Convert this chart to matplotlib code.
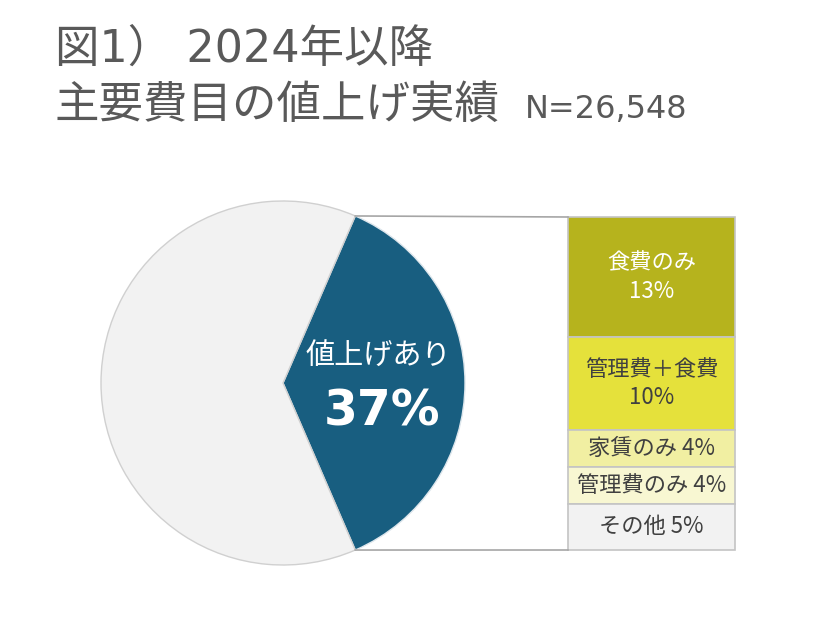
import matplotlib
matplotlib.use("Agg")
import matplotlib.pyplot as plt
import numpy as np

plt.rcParams['font.family'] = ['Noto Sans CJK JP', 'DejaVu Sans']

# data
pie_labels = ['値上げあり', 'なし']
pie_values = [37, 63]
bar_labels = ['食費のみ', '管理費＋食費', '家賃のみ', '管理費のみ', 'その他']
bar_values = [13, 10, 4, 4, 5]
bar_texts = ['食費のみ\n13%', '管理費＋食費\n10%', '家賃のみ 4%', '管理費のみ 4%', 'その他 5%']
bar_colors = ['#B6B31D', '#E5E13B', '#F1EFA2', '#F8F7D2', '#F2F2F2']
bar_text_colors = ['white', '#404040', '#404040', '#404040', '#404040']
title1 = '図1） 2024年以降'
title2 = '主要費目の値上げ実績'
n_text = 'N=26,548'

fig = plt.figure(figsize=(8.4, 6.28), dpi=100)
ax = fig.add_axes([0, 0, 1, 1])

# pie (pixel coords)
cx, cy, r = 283, 383, 182
half = pie_values[0] / 100 * 360 / 2
wedges, _ = ax.pie(pie_values, center=(cx, cy), radius=r, startangle=-half,
                   colors=['#185E80', '#F2F2F2'], frame=True,
                   wedgeprops=dict(edgecolor='#D0D0D0', linewidth=1.0))
wedges[0].set_edgecolor('#DDE6EC')
ax.set_xlim(0, 840)
ax.set_ylim(628, 0)
ax.axis('off')

ax.text(cx + 95, cy - 26, pie_labels[0], color='white', fontsize=21,
        ha='center', va='center')
ax.text(cx + 99, cy + 28, f'{pie_values[0]}%', color='white', fontsize=35,
        ha='center', va='center', fontweight='bold', family=['DejaVu Sans'])

# stacked bar
bx0, bx1 = 568, 735
by_top, by_bot = 217, 550
scale = (by_bot - by_top) / sum(bar_values)
bottom = by_top
for lab, val, col, txt, tc in zip(bar_labels, bar_values, bar_colors, bar_texts, bar_text_colors):
    h = val * scale
    ax.bar((bx0 + bx1) / 2, h, width=bx1 - bx0, bottom=bottom, color=col,
           edgecolor='#C4C4C4', linewidth=1.2)
    ax.text((bx0 + bx1) / 2, bottom + h / 2, txt, color=tc, fontsize=16,
            ha='center', va='center', linespacing=1.3)
    bottom += h

# connectors
a = np.deg2rad(half)
px = cx + r * np.cos(a)
ax.plot([px, bx0], [cy - r * np.sin(a), by_top], color='#A6A6A6', lw=1.2)
ax.plot([px, bx0], [cy + r * np.sin(a), by_bot], color='#A6A6A6', lw=1.2)

# titles
ax.text(55, 49, title1, color='#595959', fontsize=32, ha='left', va='center',
        family=['DejaVu Sans', 'Noto Sans CJK JP'])
ax.text(55, 105, title2, color='#595959', fontsize=32, ha='left', va='center')
ax.text(525, 109, n_text, color='#595959', fontsize=23, ha='left', va='center',
        family=['DejaVu Sans'])

fig.savefig('out.png', dpi=100, facecolor='white')
